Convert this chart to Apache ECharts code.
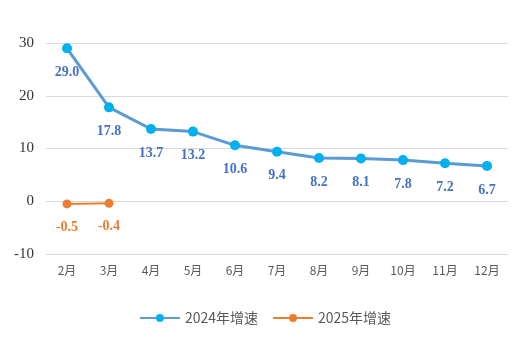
<!DOCTYPE html>
<html><head><meta charset="utf-8">
<script src="https://cdn.jsdelivr.net/npm/echarts@6/dist/echarts.min.js"></script>
<style>html,body{margin:0;padding:0;background:#fff}#c{width:530px;height:348px}</style>
</head><body><div id="c"></div>
<script>
var categories = ['2月','3月','4月','5月','6月','7月','8月','9月','10月','11月','12月'];
var growth2024 = [29.0,17.8,13.7,13.2,10.6,9.4,8.2,8.1,7.8,7.2,6.7];
var growth2025 = [-0.5,-0.4];
var seriesNames = ['2024年增速','2025年增速'];
var yTicks = {min:-10,max:30,interval:10};

var chart = echarts.init(document.getElementById('c'));
var labelStyle = function(color){return {show:true,position:'bottom',distance:12,fontFamily:'Liberation Serif, Times New Roman, serif',fontWeight:'bold',fontSize:14,color:color,formatter:function(p){return p.value.toFixed(1);}};};
chart.setOption({
  animation:false,
  grid:{left:46,right:22,top:43,bottom:94},
  legend:{bottom:18,left:'center',itemWidth:40,itemHeight:10,itemGap:14,textStyle:{fontFamily:'Noto Sans CJK SC, sans-serif',fontSize:14,color:'#595959'},
    data:[{name:seriesNames[0],itemStyle:{color:'#00B0F0'},lineStyle:{color:'#5B9BD5'}},{name:seriesNames[1],itemStyle:{color:'#ED7D31'},lineStyle:{color:'#ED7D31'}}]},
  xAxis:{type:'category',data:categories,boundaryGap:true,axisLine:{show:false},axisTick:{show:false},
    axisLabel:{fontFamily:'Noto Sans CJK SC, sans-serif',fontSize:12,color:'#595959',margin:10}},
  yAxis:{type:'value',min:yTicks.min,max:yTicks.max,interval:yTicks.interval,axisLine:{show:false},axisTick:{show:false},
    axisLabel:{fontFamily:'Liberation Serif, Times New Roman, serif',fontSize:15,color:'#333',margin:12},
    splitLine:{lineStyle:{color:'#d9d9d9',width:1}}},
  series:[
    {name:seriesNames[0],type:'line',data:growth2024,symbol:'circle',symbolSize:10,
     lineStyle:{color:'#5B9BD5',width:3},itemStyle:{color:'#00B0F0'},label:labelStyle('#4472C4')},
    {name:seriesNames[1],type:'line',data:growth2025,symbol:'circle',symbolSize:9,
     lineStyle:{color:'#ED7D31',width:2},itemStyle:{color:'#ED7D31'},label:labelStyle('#ED7D31')}
  ]
});
</script></body></html>
